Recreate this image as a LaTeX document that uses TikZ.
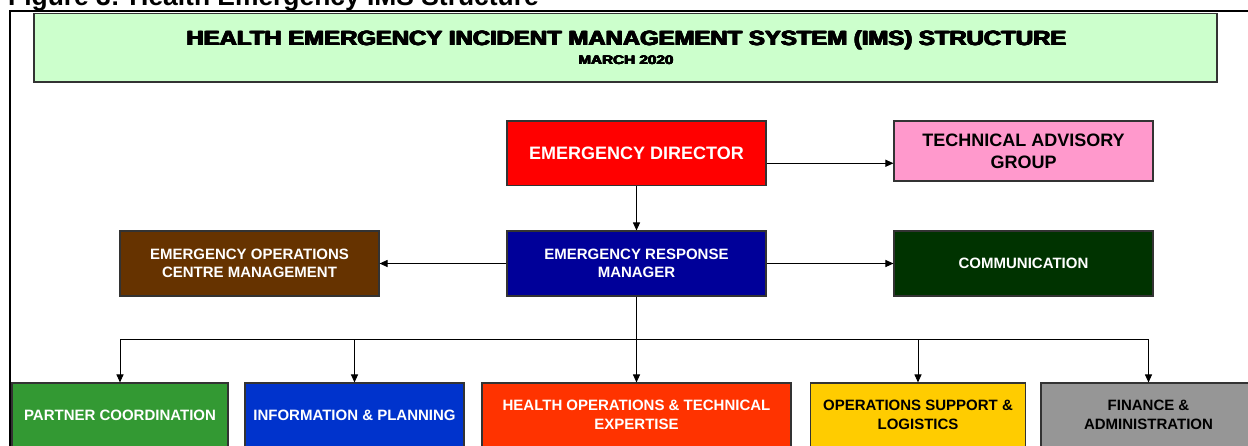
\documentclass[tikz,border=0pt]{standalone}
\usepackage{fontspec}
\usepackage{graphicx}
\setmainfont{Liberation Sans}
\usetikzlibrary{arrows.meta}

% extra-heavy lettering: the bold face set several times with small offsets
\newcommand\heavyset[2]{%
  \rlap{#2}%
  \rlap{\raisebox{#1}{#2}}%
  \rlap{\kern#1\relax #2}%
  \rlap{\kern#1\relax\raisebox{#1}{#2}}%
  \rlap{\kern#1\kern#1\relax #2}%
  \kern#1\kern#1\relax\raisebox{#1}{#2}}

\definecolor{titlegreen}{HTML}{CCFFCC}
\definecolor{dirred}{HTML}{FF0000}
\definecolor{tagpink}{HTML}{FF99CC}
\definecolor{ermblue}{HTML}{000099}
\definecolor{eocbrown}{HTML}{663300}
\definecolor{comgreen}{HTML}{003300}
\definecolor{pcgreen}{HTML}{339933}
\definecolor{ipblue}{HTML}{0033CC}
\definecolor{hored}{HTML}{FF3300}
\definecolor{osyellow}{HTML}{FFCC00}
\definecolor{fagray}{HTML}{969696}
\definecolor{edgegray}{HTML}{333333}

\tikzset{
  unit/.style={draw=edgegray, line width=1.1pt, inner sep=0pt, align=center,
    font=\bfseries\fontsize{15}{18.5}\selectfont},
  bigunit/.style={unit, font=\bfseries\fontsize{18}{22}\selectfont},
  arr/.style={draw=black, line width=1pt, -{Triangle[length=8pt,width=7pt]}},
}

\begin{document}
\begin{tikzpicture}[x=1pt,y=-1pt]
\useasboundingbox (0,0) rectangle (1248,445);
\clip (0,0) rectangle (1248,445);

% caption above the frame
\node[anchor=base west, inner sep=0pt, font=\bfseries\fontsize{26.4}{30}\selectfont]
  (caption) at (8,5.5) {Figure 3: Health Emergency IMS Structure};

% frame
\draw[line width=2pt] (10,450) -- (10,10.5) -- (1252,10.5);

% title banner
\node[draw=edgegray, line width=1.1pt, fill=titlegreen, minimum width=1183pt,
  minimum height=68.5pt, inner sep=0pt] (banner) at (625.5,47.75) {};
\node[inner sep=0pt] (title) at (626.5,40)
  {\resizebox{881pt}{\height}{\bfseries\fontsize{20.5}{21}\selectfont\heavyset{0.55pt}{HEALTH EMERGENCY INCIDENT MANAGEMENT SYSTEM (IMS) STRUCTURE}}};
\node[inner sep=0pt] (date) at (626,60)
  {\resizebox{96pt}{\height}{\bfseries\fontsize{12.3}{12.5}\selectfont\heavyset{0.35pt}{MARCH 2020}}};

% command level
\node[bigunit, fill=dirred, text=white, minimum width=259pt, minimum height=64.5pt]
  (ED) at (636.5,153.25) {EMERGENCY DIRECTOR};
\node[bigunit, fill=tagpink, text=black, minimum width=259pt, minimum height=60pt]
  (TAG) at (1023.5,151) {TECHNICAL ADVISORY\\GROUP};

\node[unit, fill=ermblue, text=white, minimum width=259pt, minimum height=65pt]
  (ERM) at (636.5,263.5) {EMERGENCY RESPONSE\\MANAGER};
\node[unit, fill=eocbrown, text=white, minimum width=259pt, minimum height=65pt]
  (EOC) at (249.5,263.5) {EMERGENCY OPERATIONS\\CENTRE MANAGEMENT};
\node[unit, fill=comgreen, text=white, minimum width=259pt, minimum height=65pt]
  (COM) at (1023.5,263.5) {COMMUNICATION};

% functional pillars
\node[unit, fill=pcgreen, text=white, minimum width=216pt, minimum height=64pt]
  (PC) at (120,415) {PARTNER COORDINATION};
\node[unit, fill=ipblue, text=white, minimum width=219pt, minimum height=64pt]
  (IP) at (354.5,415) {INFORMATION \& PLANNING};
\node[unit, fill=hored, text=white, minimum width=309pt, minimum height=64pt]
  (HO) at (636.5,415) {HEALTH OPERATIONS \& TECHNICAL\\EXPERTISE};
\node[unit, fill=osyellow, text=black, minimum width=215pt, minimum height=64pt]
  (OS) at (918,415) {OPERATIONS SUPPORT \&\\LOGISTICS};
\node[unit, fill=fagray, text=black, minimum width=215pt, minimum height=64pt]
  (FA) at (1148.5,415) {FINANCE \&\\ADMINISTRATION};

% connectors
\coordinate (bus) at (636.5,339.5);
\draw[arr] (ED.south) -- (ERM.north);
\draw[arr] ([yshift=-10pt]ED.east) -- ([yshift=-10pt]ED.east -| TAG.west);
\draw[arr] (ERM.west) -- (EOC.east);
\draw[arr] (ERM.east) -- (COM.west);
\draw[arr] (ERM.south) -- (HO.north);
\draw[arr] (bus) -| (PC.north);
\draw[arr] (bus) -| (IP.north);
\draw[arr] (bus) -| (OS.north);
\draw[arr] (bus) -| (FA.north);
\end{tikzpicture}
\end{document}
